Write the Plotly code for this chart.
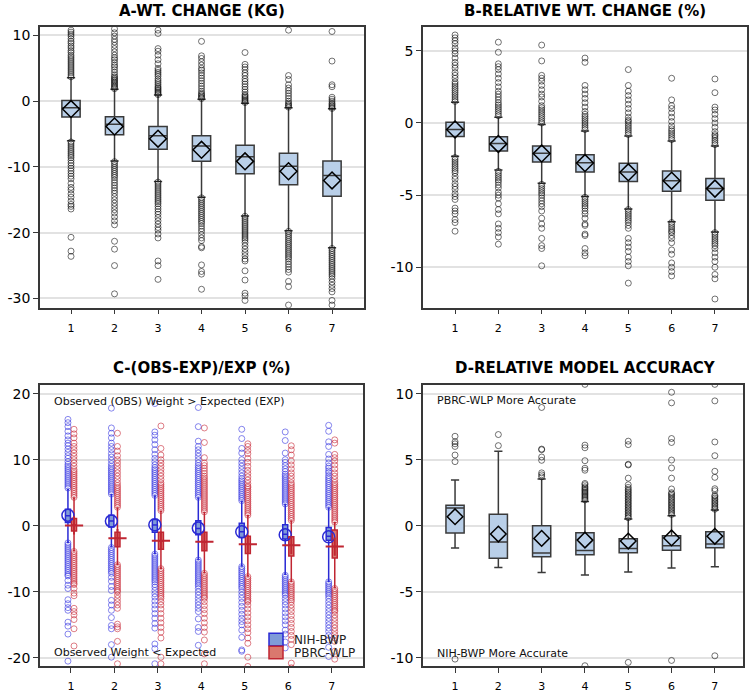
import plotly.graph_objects as go

cats = [1, 2, 3, 4, 5, 6, 7]

# ---- panel A: weight change (kg)
a_q1 = [-2.4, -5.1, -7.3, -9.15, -11.05, -12.7, -14.45]
a_med = [-1.0, -3.5, -5.25, -6.8, -8.45, -9.9, -11.3]
a_q3 = [0.1, -2.35, -3.85, -5.25, -6.7, -7.9, -9.1]
a_mean = [-1.2, -3.85, -5.7, -7.4, -9.15, -10.65, -12.05]
a_lo = [-6.0, -9.1, -12.2, -14.6, -17.45, -19.7, -22.3]
a_hi = [3.55, 1.8, 0.95, 0.3, -0.3, -1.0, -1.15]
a_out = [
    [3.7, 4.0, 4.3, 4.6, 4.9, 5.2, 5.5, 5.8, 6.1, 6.4, 6.7, 7.0, 7.4, 7.7, 8.1, 8.4, 8.8, 9.1, 9.5, 9.9, 10.2, 10.5, 10.8,
     -6.2, -6.5, -6.8, -7.1, -7.4, -7.7, -8.0, -8.3, -8.6, -9.0, -9.4, -9.8, -10.2, -10.6, -11.0, -11.4, -11.8, -12.5,
     -13.1, -13.5, -14.1, -14.6, -15.2, -15.7, -16.0, -16.4, -20.7, -22.8, -23.6],
    [1.9, 2.1, 2.3, 2.5, 2.7, 2.9, 3.1, 3.3, 3.5, 3.7, 4.0, 4.4, 4.8, 5.2, 5.5, 5.9, 6.3, 6.6, 7.0, 7.5, 8.0, 8.5, 9.0,
     9.4, 9.9, 10.4, 11.0,
     -9.2, -9.5, -9.8, -10.1, -10.4, -10.7, -11.0, -11.3, -11.6, -12.0, -12.4, -12.8, -13.2, -13.6, -14.0, -14.5, -15.0,
     -15.5, -16.0, -16.5, -17.0, -17.6, -18.2, -18.8, -21.3, -22.5, -25.0, -29.3],
    [1.0, 1.2, 1.4, 1.6, 1.8, 2.0, 2.2, 2.5, 2.8, 3.1, 3.4, 3.8, 4.1, 4.4, 4.7, 5.0, 5.7, 6.3, 7.0, 7.6, 8.0, 10.3, 10.8,
     -12.3, -12.6, -12.9, -13.2, -13.5, -13.8, -14.1, -14.4, -14.7, -15.0, -15.3, -15.6, -16.0, -16.4, -16.8, -17.2,
     -17.7, -18.2, -18.7, -19.2, -19.6, -20.2, -20.8, -24.3, -25.0, -27.1],
    [0.4, 0.6, 0.8, 1.0, 1.2, 1.5, 1.9, 2.3, 2.7, 3.1, 3.5, 3.9, 4.3, 4.7, 5.0, 5.5, 6.0, 6.5, 6.9, 9.1,
     -14.7, -15.0, -15.3, -15.6, -15.9, -16.2, -16.5, -16.8, -17.1, -17.4, -17.7, -18.0, -18.3, -18.6, -19.0, -19.4,
     -19.8, -20.3, -20.8, -21.2, -22.1, -22.3, -24.9, -25.9, -26.3, -28.6],
    [-0.2, 0.0, 0.2, 0.4, 0.6, 0.8, 1.0, 1.4, 1.8, 2.2, 2.6, 3.0, 3.4, 3.9, 4.3, 4.8, 5.2, 5.6, 7.4,
     -17.5, -17.8, -18.1, -18.4, -18.7, -19.0, -19.3, -19.6, -19.9, -20.2, -20.5, -20.8, -21.1, -21.5, -22.0, -22.5,
     -23.0, -23.5, -24.0, -24.3, -25.8, -27.2, -29.2, -29.6, -30.3],
    [-0.9, -0.7, -0.5, -0.3, 0.0, 0.4, 0.8, 1.2, 1.6, 2.0, 2.5, 3.3, 3.9, 10.8,
     -19.8, -20.1, -20.4, -20.7, -21.0, -21.3, -21.6, -21.9, -22.2, -22.5, -22.8, -23.1, -23.4, -23.7, -24.0, -24.4,
     -24.8, -25.2, -25.6, -26.0, -27.4, -28.2, -31.0],
    [-1.1, -0.9, -0.7, -0.5, -0.3, 0.0, 0.3, 0.6, 2.2, 2.5, 6.1, 10.6,
     -22.4, -22.7, -23.0, -23.3, -23.6, -23.9, -24.2, -24.5, -24.8, -25.1, -25.4, -25.7, -26.0, -26.3, -26.6, -27.0,
     -27.5, -28.0, -28.5, -29.0, -30.3, -31.0],
]

# ---- panel B: relative weight change (%)
b_q1 = [-0.94, -1.95, -2.7, -3.4, -4.06, -4.73, -5.35]
b_med = [-0.45, -1.42, -2.1, -2.75, -3.4, -4.0, -4.55]
b_q3 = [0.05, -0.96, -1.6, -2.2, -2.8, -3.33, -3.85]
b_mean = [-0.45, -1.45, -2.12, -2.78, -3.42, -4.0, -4.55]
b_lo = [-2.3, -3.26, -4.18, -5.1, -5.97, -6.85, -7.55]
b_hi = [1.43, 0.4, -0.1, -0.55, -0.9, -1.25, -1.6]
b_out = [
    [1.5, 1.65, 1.8, 1.95, 2.1, 2.25, 2.4, 2.55, 2.7, 2.85, 3.1, 3.3, 3.5, 3.8, 4.0, 4.2, 4.5, 4.8, 5.0, 5.2, 5.5, 5.7,
     5.9, 6.1,
     -2.4, -2.55, -2.7, -2.85, -3.0, -3.15, -3.3, -3.45, -3.7, -3.9, -4.2, -4.4, -4.6, -4.9, -5.1, -5.3, -5.9, -6.1,
     -6.3, -6.7, -6.9, -7.5],
    [0.5, 0.65, 0.8, 0.95, 1.1, 1.25, 1.4, 1.6, 1.8, 2.0, 2.2, 2.5, 2.8, 3.1, 3.4, 3.7, 3.9, 4.1, 4.9, 5.6,
     -3.35, -3.5, -3.65, -3.8, -3.95, -4.1, -4.3, -4.5, -4.8, -5.0, -5.2, -5.6, -6.0, -6.3, -7.0, -7.3, -7.6, -7.9, -8.4],
    [0.0, 0.15, 0.3, 0.45, 0.6, 0.75, 0.9, 1.05, 1.2, 1.5, 1.8, 2.0, 2.3, 2.6, 2.9, 3.1, 3.3, 4.3, 5.4,
     -4.25, -4.4, -4.55, -4.7, -4.85, -5.0, -5.2, -5.4, -5.6, -5.8, -6.1, -6.6, -7.0, -7.3, -8.0, -8.5, -8.7, -9.9],
    [-0.45, -0.3, -0.15, 0.0, 0.15, 0.3, 0.45, 0.6, 0.8, 1.1, 1.4, 1.7, 2.0, 2.3, 2.6, 4.2, 4.5,
     -5.15, -5.3, -5.45, -5.6, -5.75, -5.9, -6.1, -6.3, -6.6, -7.0, -7.1, -7.7, -7.8, -8.7, -9.0, -9.2],
    [-0.8, -0.65, -0.5, -0.35, -0.2, -0.05, 0.1, 0.2, 0.4, 0.7, 1.0, 1.3, 1.6, 1.9, 2.2, 2.6, 3.7,
     -6.0, -6.15, -6.3, -6.45, -6.6, -6.75, -6.9, -7.1, -7.3, -8.0, -8.3, -8.6, -8.9, -9.3, -9.6, -9.9, -11.1],
    [-1.15, -1.0, -0.85, -0.7, -0.55, -0.4, -0.2, 0.1, 0.4, 0.7, 1.0, 1.2, 1.6, 3.1,
     -6.9, -7.05, -7.2, -7.35, -7.5, -7.6, -7.8, -8.0, -8.3, -8.8, -9.1, -9.7, -10.0, -10.3, -10.6],
    [-1.5, -1.35, -1.2, -1.05, -0.9, -0.8, -0.6, -0.3, 0.0, 0.3, 0.6, 0.9, 1.1, 2.1, 3.05,
     -7.6, -7.75, -7.9, -8.05, -8.2, -8.35, -8.5, -8.7, -9.0, -9.3, -9.6, -10.0, -10.5, -10.8, -12.2],
]

# ---- panel C: (obs-exp)/exp (%), two models
nih_q1 = [0.5, -0.2, -1.0, -1.37, -1.78, -2.0, -2.2]
nih_med = [1.5, 0.7, 0.1, -0.4, -0.9, -1.3, -1.6]
nih_q3 = [2.5, 1.6, 0.95, 0.76, 0.36, 0.15, -0.25]
nih_mean = [1.6, 0.7, 0.15, -0.36, -0.91, -1.37, -1.67]
nih_lo = [-2.5, -3.2, -4.2, -5.1, -6.1, -7.36, -8.4]
nih_hi = [5.5, 4.7, 4.5, 4.2, 3.7, 3.2, 2.7]
nih_out = [
    [5.7, 6.0, 6.3, 6.6, 6.9, 7.2, 7.5, 7.8, 8.1, 8.4, 8.7, 9.0, 9.3, 9.7, 10.2, 10.6, 11.1, 11.6, 12.1, 12.5, 13.0,
     13.6, 14.3, 15.0, 15.6, 16.1,
     -2.6, -2.9, -3.2, -3.5, -3.8, -4.1, -4.4, -4.7, -5.0, -5.3, -5.6, -5.9, -6.2, -6.5, -6.8, -7.1, -7.4, -7.6, -8.3,
     -9.0, -9.5, -11.2, -11.8, -12.4, -12.8, -14.6, -15.2, -16.4, -20.5],
    [4.8, 5.1, 5.4, 5.7, 6.0, 6.3, 6.6, 6.9, 7.2, 7.5, 7.8, 8.1, 8.4, 8.7, 9.0, 9.4, 9.9, 10.4, 10.9, 11.5, 12.0, 12.5,
     13.3, 14.0, 14.8, 17.8,
     -3.3, -3.6, -3.9, -4.2, -4.5, -4.8, -5.1, -5.4, -5.7, -6.0, -6.3, -6.6, -6.9, -7.2, -7.8, -8.4, -9.2, -9.8, -11.3,
     -12.0, -12.8, -13.9, -15.1, -15.6, -18.0, -19.9],
    [4.6, 4.9, 5.2, 5.5, 5.8, 6.1, 6.4, 6.7, 7.0, 7.3, 7.6, 7.9, 8.2, 8.5, 8.8, 9.2, 9.7, 10.2, 10.8, 11.5, 12.3, 13.0,
     13.7, 14.2, 18.5,
     -4.3, -4.6, -4.9, -5.2, -5.5, -5.8, -6.1, -6.4, -6.7, -7.0, -7.3, -7.6, -7.9, -8.2, -8.5, -8.9, -9.3, -9.8, -10.3,
     -10.8, -11.4, -12.0, -12.6, -13.3, -14.0, -14.8, -15.5, -17.9, -18.6, -20.9],
    [4.3, 4.6, 4.9, 5.2, 5.5, 5.8, 6.1, 6.4, 6.7, 7.0, 7.3, 7.6, 7.9, 8.2, 8.5, 8.8, 9.1, 9.5, 10.0, 10.5, 11.0, 11.5,
     12.0, 12.8, 15.0, 17.9,
     -5.2, -5.5, -5.8, -6.1, -6.4, -6.7, -7.0, -7.3, -7.6, -7.9, -8.2, -8.5, -8.8, -9.1, -9.5, -10.0, -10.5, -11.0,
     -11.5, -12.0, -12.5, -13.0, -14.1, -15.4, -16.0, -18.1],
    [3.8, 4.1, 4.4, 4.7, 5.0, 5.3, 5.6, 5.9, 6.2, 6.5, 6.8, 7.1, 7.5, 8.0, 8.5, 9.0, 9.5, 10.0, 11.0, 11.7, 13.2, 14.6,
     -6.2, -6.5, -6.8, -7.1, -7.4, -7.7, -8.0, -8.3, -8.6, -8.9, -9.2, -9.5, -10.0, -10.5, -11.0, -11.6, -12.2, -12.8,
     -13.4, -14.0, -14.5, -15.0, -15.8, -16.9, -18.8, -19.0],
    [3.3, 3.6, 3.9, 4.2, 4.5, 4.8, 5.1, 5.4, 5.7, 6.0, 6.3, 6.6, 6.9, 7.2, 7.5, 7.8, 8.2, 8.6, 9.1, 9.6, 10.0, 11.0,
     12.9, 14.2,
     -7.5, -7.8, -8.1, -8.4, -8.7, -9.0, -9.3, -9.6, -9.9, -10.2, -10.5, -11.0, -11.5, -12.0, -12.6, -13.2, -13.8,
     -14.4, -15.0, -15.8, -16.4, -17.6, -18.5],
    [2.8, 3.1, 3.4, 3.7, 4.0, 4.3, 4.6, 4.9, 5.2, 5.5, 5.8, 6.1, 6.4, 6.7, 7.0, 7.3, 7.6, 8.0, 8.3, 8.7, 9.0, 9.5, 10.1,
     10.8, 12.0, 12.7, 14.3, 15.2,
     -8.5, -8.8, -9.1, -9.4, -9.7, -10.0, -10.3, -10.6, -11.0, -11.5, -12.0, -12.5, -13.0, -13.5, -14.0, -14.5, -15.0,
     -15.5, -16.0, -16.6, -17.3, -18.4, -19.8],
]

pbrc_q1 = [-0.8, -3.2, -3.55, -3.8, -4.2, -4.57, -4.9]
pbrc_med = [0.1, -1.9, -2.3, -2.45, -2.8, -2.95, -3.15]
pbrc_q3 = [1.1, -1.0, -1.0, -1.0, -1.6, -1.68, -0.66]
pbrc_mean = [0.05, -1.88, -2.28, -2.44, -2.8, -2.94, -3.15]
pbrc_lo = [-3.8, -5.84, -6.45, -7.1, -7.6, -8.4, -9.4]
pbrc_hi = [4.2, 2.7, 2.2, 2.0, 1.5, 0.7, 0.45]
pbrc_out = [
    [4.3, 4.6, 4.9, 5.2, 5.5, 5.8, 6.1, 6.4, 6.7, 7.0, 7.3, 7.6, 7.9, 8.2, 8.5, 9.0, 9.5, 10.0, 10.5, 11.0, 11.5, 12.0,
     12.5, 13.3, 13.9, 14.6,
     -3.9, -4.2, -4.5, -4.8, -5.1, -5.4, -5.7, -6.0, -6.3, -6.6, -6.9, -7.2, -7.5, -7.8, -8.1, -8.4, -8.7, -8.9, -9.5,
     -10.2, -10.6, -12.5, -13.0, -13.5, -14.2, -15.6, -18.2],
    [2.8, 3.1, 3.4, 3.7, 4.0, 4.3, 4.6, 4.9, 5.2, 5.5, 5.8, 6.1, 6.5, 7.0, 7.5, 8.0, 8.5, 9.0, 9.5, 10.0, 10.6, 11.3,
     12.0, 14.0,
     -5.9, -6.2, -6.5, -6.8, -7.1, -7.4, -7.7, -8.0, -8.3, -8.6, -8.9, -9.2, -9.5, -9.8, -10.0, -10.5, -11.0, -11.5,
     -12.0, -12.5, -14.9, -15.3, -15.6, -17.5, -20.9],
    [2.3, 2.6, 2.9, 3.2, 3.5, 3.8, 4.1, 4.4, 4.7, 5.0, 5.3, 5.6, 5.9, 6.2, 6.5, 7.0, 7.5, 8.0, 8.5, 9.0, 9.5, 10.0,
     10.7, 11.7, 15.1,
     -6.5, -6.8, -7.1, -7.4, -7.7, -8.0, -8.3, -8.6, -8.9, -9.2, -9.5, -9.8, -10.1, -10.4, -10.7, -11.0, -11.5, -12.0,
     -12.6, -13.3, -14.0, -14.7, -15.4, -16.1, -17.0, -19.9, -20.9],
    [2.1, 2.4, 2.7, 3.0, 3.3, 3.6, 3.9, 4.2, 4.5, 4.8, 5.1, 5.4, 5.7, 6.0, 6.3, 6.6, 6.9, 7.2, 7.5, 7.9, 8.3, 8.7, 9.1,
     9.5, 10.3, 12.6, 14.8,
     -7.2, -7.5, -7.8, -8.1, -8.4, -8.7, -9.0, -9.3, -9.6, -9.9, -10.2, -10.5, -10.8, -11.0, -11.5, -12.1, -12.7,
     -13.3, -14.0, -14.7, -15.4, -16.1, -17.3, -19.4, -20.9],
    [1.6, 1.9, 2.2, 2.5, 2.8, 3.1, 3.4, 3.7, 4.0, 4.3, 4.6, 4.9, 5.2, 5.5, 5.8, 6.0, 6.4, 6.9, 7.4, 7.9, 8.4, 9.0, 9.6,
     10.2, 10.9, 11.4, 12.0, 12.4,
     -7.7, -8.0, -8.3, -8.6, -8.9, -9.2, -9.5, -9.8, -10.1, -10.4, -10.7, -11.0, -11.3, -11.5, -12.0, -12.6, -13.2,
     -13.8, -14.4, -15.0, -15.6, -16.2, -17.0, -17.8, -19.9, -21.3],
    [0.8, 1.1, 1.4, 1.7, 2.0, 2.3, 2.6, 2.9, 3.2, 3.5, 3.8, 4.1, 4.4, 4.7, 5.0, 5.3, 5.6, 5.9, 6.2, 6.5, 7.0, 7.5, 8.0,
     8.6, 9.2, 9.8, 10.7, 11.5, 12.1,
     -8.5, -8.8, -9.1, -9.4, -9.7, -10.0, -10.3, -10.6, -10.9, -11.2, -11.5, -12.0, -12.5, -13.0, -13.6, -14.2, -14.8,
     -15.4, -16.0, -16.6, -17.2, -18.0, -20.8, -21.5],
    [0.55, 0.85, 1.15, 1.45, 1.75, 2.05, 2.35, 2.65, 2.95, 3.25, 3.55, 3.85, 4.15, 4.45, 4.75, 5.05, 5.35, 5.65, 5.95,
     6.25, 6.55, 7.0, 7.5, 8.0, 8.6, 9.2, 9.8, 10.3, 10.8, 12.5, 13.0,
     -9.5, -9.8, -10.1, -10.4, -10.7, -11.0, -11.3, -11.6, -11.9, -12.2, -12.5, -12.8, -13.0, -13.5, -14.0, -14.5,
     -15.0, -15.5, -16.0, -16.5, -17.0, -17.5, -19.0, -20.2],
]

# ---- panel D: relative model accuracy
d_q1 = [-0.56, -2.47, -2.35, -2.2, -2.05, -1.85, -1.67]
d_med = [1.34, -1.24, -2.07, -1.87, -1.72, -1.52, -1.39]
d_q3 = [1.54, 0.86, 0.0, -0.53, -0.98, -0.76, -0.45]
d_mean = [0.68, -0.63, -0.96, -1.09, -1.16, -0.93, -0.8]
d_lo = [-1.69, -3.17, -3.54, -3.74, -3.5, -3.2, -3.1]
d_hi = [3.46, 5.63, 3.53, 1.84, 0.5, 0.76, 1.19]
d_out = [
    [4.85, 5.35, 6.0, 6.2, 6.36, 6.77, -10.1],
    [6.06, 6.9],
    [3.7, 3.85, 4.0, 4.95, 5.2, 5.75, 5.8, 8.95],
    [1.95, 2.05, 2.15, 2.25, 2.35, 2.45, 2.55, 2.65, 2.75, 2.85, 2.95, 3.1, 3.2, 4.2, 4.35, 4.92, 5.9, 6.1, 10.7, -10.6],
    [0.6, 0.72, 0.84, 0.96, 1.08, 1.2, 1.32, 1.44, 1.56, 1.68, 1.8, 1.92, 2.04, 2.16, 2.28, 2.4, 2.52, 2.64, 2.76, 2.9,
     3.1, 3.6, 4.6, 4.65, 6.14, 6.4, -10.35],
    [0.85, 0.97, 1.09, 1.21, 1.33, 1.45, 1.57, 1.69, 1.81, 1.93, 2.05, 2.17, 2.29, 2.41, 2.5, 2.78, 3.6, 4.37, 4.97,
     6.3, 6.6, 9.3, 10.1, -10.2],
    [1.25, 1.37, 1.49, 1.61, 1.73, 1.85, 1.97, 2.09, 2.21, 2.3, 2.65, 2.8, 3.66, 4.12, 5.3, 6.34, 9.45, 10.7, -9.85],
]

titles = ["A-WT. CHANGE (KG)", "B-RELATIVE WT. CHANGE (%)", "C-(OBS-EXP)/EXP (%)", "D-RELATIVE MODEL ACCURACY"]
legend_names = ["NIH-BWP", "PBRC-WLP"]

FONT = "DejaVu Sans"
PT = "rgba(0,0,0,0.55)"
BOXFILL = "#b9cfe8"
BOXLINE = "#3a3a3a"
NIH_LINE, NIH_FILL, NIH_PT = "#2a2ad4", "#7f9bd8", "rgba(55,55,225,0.6)"
PB_LINE, PB_FILL, PB_PT = "#c02632", "#da786e", "rgba(200,40,55,0.6)"


def flat(pos, groups):
    xs, ys = [], []
    for p, vals in zip(pos, groups):
        xs += [p] * len(vals)
        ys += vals
    return xs, ys


def add_boxes(fig, xa, ya, pos, q1, med, q3, lo, hi, fill, line, width):
    fig.add_trace(go.Box(x=pos, q1=q1, median=med, q3=q3, lowerfence=lo, upperfence=hi,
                         xaxis=xa, yaxis=ya, width=width, whiskerwidth=0.45,
                         fillcolor=fill, line=dict(color=line, width=1.5),
                         boxpoints=False, hoverinfo="skip", showlegend=False))


def add_points(fig, xa, ya, pos, groups, color, size=6):
    xs, ys = flat(pos, groups)
    fig.add_trace(go.Scatter(x=xs, y=ys, xaxis=xa, yaxis=ya, mode="markers", showlegend=False,
                             hoverinfo="skip",
                             marker=dict(symbol="circle-open", size=size, color=color,
                                         line=dict(width=1, color=color))))


def add_mean(fig, xa, ya, pos, mean, symbol, size, color, lw=1.5):
    fig.add_trace(go.Scatter(x=pos, y=mean, xaxis=xa, yaxis=ya, mode="markers", showlegend=False,
                             hoverinfo="skip",
                             marker=dict(symbol=symbol, size=size, color=color,
                                         line=dict(width=lw, color=color))))


fig = go.Figure()

nih_pos = [c - 0.07 for c in cats]
pb_pos = [c + 0.07 for c in cats]

# boxes first so the scatter layer (outliers, means) sits on top
add_boxes(fig, "x", "y", cats, a_q1, a_med, a_q3, a_lo, a_hi, BOXFILL, BOXLINE, 0.42)
add_boxes(fig, "x2", "y2", cats, b_q1, b_med, b_q3, b_lo, b_hi, BOXFILL, BOXLINE, 0.42)
add_boxes(fig, "x3", "y3", nih_pos, nih_q1, nih_med, nih_q3, nih_lo, nih_hi, NIH_FILL, NIH_LINE, 0.115)
add_boxes(fig, "x3", "y3", pb_pos, pbrc_q1, pbrc_med, pbrc_q3, pbrc_lo, pbrc_hi, PB_FILL, PB_LINE, 0.115)
add_boxes(fig, "x4", "y4", cats, d_q1, d_med, d_q3, d_lo, d_hi, BOXFILL, BOXLINE, 0.42)

add_points(fig, "x", "y", cats, a_out, PT)
add_points(fig, "x2", "y2", cats, b_out, PT)
add_points(fig, "x3", "y3", nih_pos, nih_out, NIH_PT)
add_points(fig, "x3", "y3", pb_pos, pbrc_out, PB_PT)
add_points(fig, "x4", "y4", cats, d_out, PT)

add_mean(fig, "x", "y", cats, a_mean, "diamond-open", 13, "black")
add_mean(fig, "x2", "y2", cats, b_mean, "diamond-open", 13, "black")
add_mean(fig, "x3", "y3", nih_pos, nih_mean, "circle-open", 12, NIH_LINE)
add_mean(fig, "x3", "y3", pb_pos, pbrc_mean, "cross-thin-open", 13, PB_LINE, 2)
add_mean(fig, "x4", "y4", cats, d_mean, "diamond-open", 12, "black")

W, H = 749, 693


def px_dom(a, b, total, flip=False):
    if flip:
        return [1 - b / total, 1 - a / total]
    return [a / total, b / total]


frame = dict(showline=True, linecolor="#383838", linewidth=1.5, mirror=True, ticks="outside",
             ticklen=5, tickcolor="#383838", zeroline=False)


def xaxis(dom, rng, anchor):
    return dict(frame, domain=dom, range=rng, anchor=anchor, tickvals=cats, showgrid=False,
                ticklabelstandoff=4, tickfont=dict(family=FONT, size=11, color="black"))


def yaxis(dom, rng, ticks, anchor):
    return dict(frame, domain=dom, range=rng, anchor=anchor, tickvals=ticks,
                ticktext=[str(t) for t in ticks], showgrid=True, gridcolor="#e2e2e2", gridwidth=1.5,
                tickfont=dict(family=FONT, size=14, color="black"))


top_y = px_dom(27, 309, H, True)
bot_y = px_dom(386.7, 669, H, True)

fig.update_layout(
    width=W, height=H, margin=dict(l=0, r=0, t=0, b=0),
    paper_bgcolor="white", plot_bgcolor="white", showlegend=False,
    xaxis=xaxis(px_dom(40, 364, W), [0.287, 7.735], "y"),
    yaxis=yaxis(top_y, [-31.4, 11.3], [-30, -20, -10, 0, 10], "x"),
    xaxis2=xaxis(px_dom(423, 747, W), [0.26, 7.74], "y2"),
    yaxis2=yaxis(top_y, [-12.8, 6.66], [-10, -5, 0, 5], "x2"),
    xaxis3=xaxis(px_dom(40, 363, W), [0.287, 7.72], "y3"),
    yaxis3=yaxis(bot_y, [-21.25, 21.3], [-20, -10, 0, 10, 20], "x3"),
    xaxis4=xaxis(px_dom(423, 743, W), [0.26, 7.65], "y4"),
    yaxis4=yaxis(bot_y, [-10.63, 10.65], [-10, -5, 0, 5, 10], "x4"),
)

title_pos = [(202, 11), (585, 11), (202, 370), (585, 370)]
for t, (tx, ty) in zip(titles, title_pos):
    fig.add_annotation(text="<b>%s</b>" % t, x=tx / W, y=1 - ty / H, xref="paper", yref="paper",
                       xanchor="center", yanchor="middle", showarrow=False,
                       font=dict(family=FONT, size=15, color="black"))

notes = [
    ("x3", "y3", "Observed (OBS) Weight &gt; Expected (EXP)", 0.942),
    ("x3", "y3", "Observed Weight &lt; Expected", 0.05),
    ("x4", "y4", "PBRC-WLP More Accurate", 0.945),
    ("x4", "y4", "NIH-BWP More Accurate", 0.046),
]
for xa, ya, t, yy in notes:
    fig.add_annotation(text=t, x=0.037, y=yy, xref=xa + " domain", yref=ya + " domain",
                       xanchor="left", yanchor="middle", showarrow=False,
                       font=dict(family=FONT, size=11, color="#111"))

# legend for panel C: swatches + labels
for i, (name, fill, line) in enumerate(zip(legend_names, [NIH_FILL, PB_FILL], [NIH_LINE, PB_LINE])):
    top = 636 + 13 * i
    fig.add_shape(type="rect", xref="paper", yref="paper", x0=269 / W, x1=283 / W,
                  y0=1 - (top + 12.5) / H, y1=1 - top / H, fillcolor=fill, line=dict(color=line, width=1.5))
    fig.add_annotation(text=name, x=292 / W, y=1 - (top + 6.5) / H, xref="paper", yref="paper",
                       xanchor="left", yanchor="middle", showarrow=False,
                       font=dict(family=FONT, size=12, color="#222"))

fig.write_html("out.html", config={"displayModeBar": False},
               post_script="document.body.style.margin='0';")
